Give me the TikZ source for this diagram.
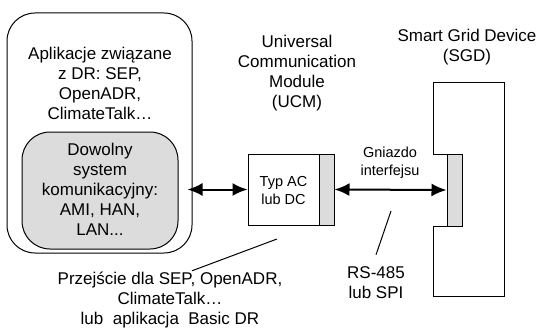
\documentclass[tikz,border=0pt]{standalone}
\usepackage{fontspec}
\setmainfont{Liberation Sans}
\usetikzlibrary{arrows.meta}
\usetikzlibrary{positioning}
\tikzset{dblarrow/.style = {line width=2pt,
                            {Latex[length=15pt,width=13pt]}-{Latex[length=15pt,width=13pt]}}}
\tikzset{txt/.style = {align=center, inner sep=0, font=\fontsize{17}{20}\selectfont}}
\tikzset{smalltxt/.style = {align=center, inner sep=0, font=\fontsize{14.5}{18}\selectfont}}
\tikzset{box/.style = {draw, line width=1pt, inner sep=0}}
\definecolor{lgray}{RGB}{220,220,220}

\begin{document}
\begin{tikzpicture}[x=1pt, y=-1pt]
    \useasboundingbox (0,0) rectangle (540,334);

    \node [box, rounded corners=28pt, minimum width=185pt, minimum height=240pt] (apps) at (99.5,133) {};
    \node [txt] (appstxt) at (100,83) {Aplikacje związane\\z DR: SEP,\\OpenADR,\\ClimateTalk…};

    \node [box, fill=lgray, rounded corners=28pt, minimum width=156pt, minimum height=117pt] (comm) at (100,190.5) {};
    \node [txt] (commtxt) at (100,189) {Dowolny\\system\\komunikacyjny:\\AMI, HAN,\\LAN...};

    \node [box, minimum width=86pt, minimum height=71pt] (ucm) at (291,189.5) {};
    \node [box, fill=lgray, minimum width=15pt, minimum height=71pt, anchor=north east] (ucmstrip) at (ucm.north east) {};
    \node [smalltxt] (ucmtxt) at (283.5,191) {Typ AC\\lub DC};
    \node [txt] (ucmtitle) at (297,73) {Universal\\Communication\\Module\\(UCM)};

    \draw [line width=1pt] (433,83) -- (504,83) -- (504,296) -- (433,296) -- (433,226)
        -- (447,226) -- (447,154) -- (433,154) -- cycle;
    \node [box, fill=lgray, minimum width=15pt, minimum height=72pt] (socket) at (454.5,190) {};
    \node [txt] (sgdtitle) at (467,47) {Smart Grid Device\\(SGD)};
    \node [smalltxt] (sockettxt) at (390,163) {Gniazdo\\interfejsu};

    \draw [dblarrow] ([xshift=-5pt]apps.east |- ucm.west) -- (ucm.west);
    \draw [dblarrow] (ucmstrip.east) -- (socket.west);

    \node [txt] (rs) at (376,283) {RS-485\\lub SPI};
    \coordinate (rstip) at (391,211);
    \draw [line width=1pt] (rstip) -- ([yshift=12pt]rs.north);

    \node [txt] (gw) at (170,300) {Przejście dla SEP, OpenADR,\\ClimateTalk…\\lub\ \ aplikacja\ \ Basic DR};
    \coordinate (gwtip) at (277,239);
    \draw [line width=1pt] (gwtip) -- ([xshift=22pt,yshift=1pt]gw.north);
\end{tikzpicture}
\end{document}
